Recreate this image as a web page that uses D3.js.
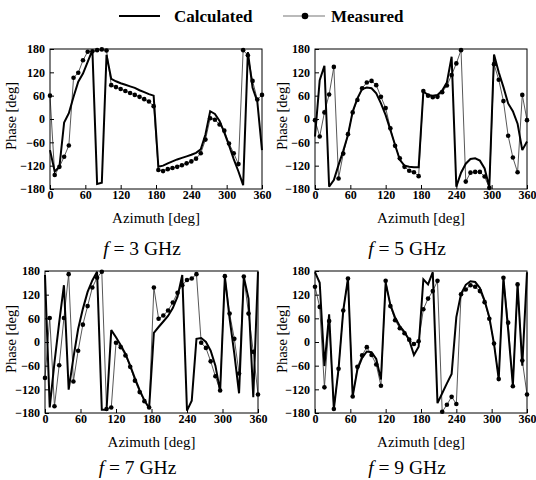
<!DOCTYPE html>
<html>
<head>
<meta charset="utf-8">
<script src="https://cdn.jsdelivr.net/npm/d3@7"></script>
<style>
body { margin: 0; background: #fff; }
svg { display: block; }
text { font-family: "Liberation Serif", "Times New Roman", serif; fill: #000; }
</style>
</head>
<body>
<svg width="536" height="480"></svg>
<script>
// azimuth grid shared by every series (deg)
var azimuth = [0, 8, 16, 24, 32, 40, 48, 56, 64, 72, 80, 88, 96, 104, 112, 120,
    128, 136, 144, 152, 160, 168, 176, 184, 192, 200, 208, 216, 224, 232, 240,
    248, 256, 264, 272, 280, 288, 296, 304, 312, 320, 328, 336, 344, 352, 360];

// f = 3 GHz
var calc3 = [-80, -135, -123, -9, 15, 57, 96, 117, 147, 177, -167, -164, 165, 103, 97, 92,
    88, 84, 80, 74, 69, 64, 60, -123, -120, -114, -109, -104, -100, -96, -92,
    -87, -78, -40, 20, 13, -5, -35, -68, -103, -135, -170, 172, 80, 45, -80];
var meas3 = [60, -144, -123, -97, -68, 106, 119, 151, 173, 174, 177, 179, 176, 87, 82, 77,
    72, 67, 62, 57, 51, 45, 33, -131, -134, -129, -126, -123, -119, -114, -109,
    -102, -88, -53, 2, -2, -14, -30, -63, -88, -116, 177, 164, 98, 50, 62];

// f = 5 GHz
var calc5 = [-45, 100, 137, -174, -157, -118, -82, -41, 19, 53, 77, 81, 79, 66, 40, 10,
    -28, -67, -105, -120, -123, -124, -124, 70, 62, 60, 62, 73, 94, 160, -174,
    -138, -115, -103, -101, -107, -127, -175, 166, 120, 82, 40, 20, -12, -80, -58];
var meas5 = [-3, -45, 17, 63, 134, -153, -89, -39, 17, 49, 79, 94, 98, 87, 57, 28,
    -24, -69, -101, -123, -133, -137, -147, 72, 60, 56, 57, 69, 86, 113, 143,
    177, -161, -138, -136, -136, -148, -177, 141, 101, 46, -43, -99, -137, 62, -3];

// f = 7 GHz
var calc7 = [170, -166, -52, 50, 144, -121, -40, 33, 84, 127, 156, 178, -172, -172, 30, 12,
    -8, -30, -60, -92, -122, -148, -168, 23, 38, 52, 66, 86, 115, 170, -174,
    -149, 8, 10, 0, -22, -60, -125, 166, 60, -30, -130, 165, 110, -140, 178];
var meas7 = [-91, 61, -163, -59, 61, 172, -100, -22, 44, 91, 138, 163, 178, -170, -166, -2,
    -13, -34, -63, -98, -127, -150, -166, 138, 59, 67, 80, 100, 125, 144, 157,
    161, 172, -2, -15, -49, -87, -123, 167, 72, 8, -80, 166, 72, -25, -133];

// f = 9 GHz
var calc9 = [177, 150, -61, 70, -170, -68, 80, 161, -138, -70, -40, -24, -26, -43, -95, 150,
    94, 62, 40, 25, 5, -33, -12, 159, 146, 177, -155, -130, -105, -81, 63,
    122, 145, 154, 152, 137, 105, 63, -5, -94, 162, 30, -110, 146, -60, 177];
var meas9 = [140, 89, -115, 53, -170, -68, 80, 161, -138, -63, -34, -13, -33, -57, -111, 155,
    91, 55, 35, 22, 6, -5, 2, 83, 110, 129, 155, -177, -159, -139, -157,
    121, 133, 144, 140, 129, 101, 59, -4, -94, 163, 49, -112, 146, -47, -133];

var freqs = [3, 5, 7, 9];
var xTicks = [0, 60, 120, 180, 240, 300, 360];
var yTicks = [-180, -120, -60, 0, 60, 120, 180];
var legendNames = ['Calculated', 'Measured'];

var series = {3: [calc3, meas3], 5: [calc5, meas5], 7: [calc7, meas7], 9: [calc9, meas9]};

// plot boxes in page pixels
var boxes = [
    {left: 50, right: 262, top: 49, bottom: 189, ylab: 16, title: 255},
    {left: 315, right: 527, top: 49, bottom: 189, ylab: 287, title: 255},
    {left: 45, right: 258, top: 271, bottom: 413, ylab: 16, title: 474},
    {left: 315, right: 527, top: 271, bottom: 413, ylab: 287, title: 474}
];

var svg = d3.select('svg');

freqs.forEach((f, k) => drawPanel(boxes[k], f, series[f][0], series[f][1]));
drawLegend();

function drawPanel(b, f, calc, meas) {
    var x = d3.scaleLinear().domain([0, 360]).range([b.left, b.right]);
    var y = d3.scaleLinear().domain([-180, 180]).range([b.bottom, b.top]);
    var g = svg.append('g');

    var line = d3.line()
        .x((d, i) => x(azimuth[i]))
        .y(d => y(d));

    // measured: thin grey line with dots
    g.append('path')
        .attr('d', line(meas))
        .attr('fill', 'none')
        .attr('stroke', '#444')
        .attr('stroke-width', 0.9);

    // calculated: thick black
    g.append('path')
        .attr('d', line(calc))
        .attr('fill', 'none')
        .attr('stroke', '#000')
        .attr('stroke-width', 2)
        .attr('stroke-linejoin', 'miter')
        .attr('stroke-miterlimit', 3);

    g.selectAll('circle')
        .data(meas)
        .enter()
        .append('circle')
        .attr('cx', (d, i) => x(azimuth[i]))
        .attr('cy', d => y(d))
        .attr('r', 2.3)
        .attr('fill', '#000');

    // axes, ticks pointing inwards
    var ax = g.append('g')
        .attr('transform', 'translate(0,' + b.bottom + ')')
        .call(d3.axisBottom(x).tickValues(xTicks).tickSizeInner(-4).tickSizeOuter(0).tickPadding(1.5));
    var ay = g.append('g')
        .attr('transform', 'translate(' + b.left + ',0)')
        .call(d3.axisLeft(y).tickValues(yTicks).tickSizeInner(-4).tickSizeOuter(0).tickPadding(5));
    [ax, ay].forEach(a => {
        a.select('.domain').remove();
        a.selectAll('text')
            .style('font-size', '12px')
            .style('font-weight', 'bold')
            .style('font-family', '"Liberation Serif", serif');
    });

    g.append('rect')
        .attr('x', b.left)
        .attr('y', b.top)
        .attr('width', b.right - b.left)
        .attr('height', b.bottom - b.top)
        .attr('fill', 'none')
        .attr('stroke', '#000')
        .attr('stroke-width', 1);

    var cx = (b.left + b.right) / 2;
    var cy = (b.top + b.bottom) / 2;

    g.append('text')
        .attr('x', cx)
        .attr('y', b.bottom + 34)
        .attr('text-anchor', 'middle')
        .style('font-size', '15px')
        .text('Azimuth [deg]');

    g.append('text')
        .attr('transform', 'translate(' + b.ylab + ',' + (cy - 3) + ') rotate(-90)')
        .attr('text-anchor', 'middle')
        .style('font-size', '14.5px')
        .text('Phase [deg]');

    var t = g.append('text')
        .attr('x', cx - 14)
        .attr('y', b.title)
        .attr('text-anchor', 'middle')
        .style('font-size', '19.5px');
    t.append('tspan').style('font-style', 'italic').text('f');
    t.append('tspan').text(' = ' + f + ' GHz');
}

function drawLegend() {
    var g = svg.append('g').style('font-size', '17px').style('font-weight', 'bold');
    g.append('line')
        .attr('x1', 119).attr('x2', 160).attr('y1', 16).attr('y2', 16)
        .attr('stroke', '#000').attr('stroke-width', 2);
    g.append('text').attr('x', 174).attr('y', 22).text(legendNames[0]);
    g.append('line')
        .attr('x1', 283).attr('x2', 325).attr('y1', 16).attr('y2', 16)
        .attr('stroke', '#777').attr('stroke-width', 1.2);
    g.append('circle').attr('cx', 305).attr('cy', 16).attr('r', 3.3).attr('fill', '#000');
    g.append('text').attr('x', 331).attr('y', 22).text(legendNames[1]);
}
</script>
</body>
</html>
